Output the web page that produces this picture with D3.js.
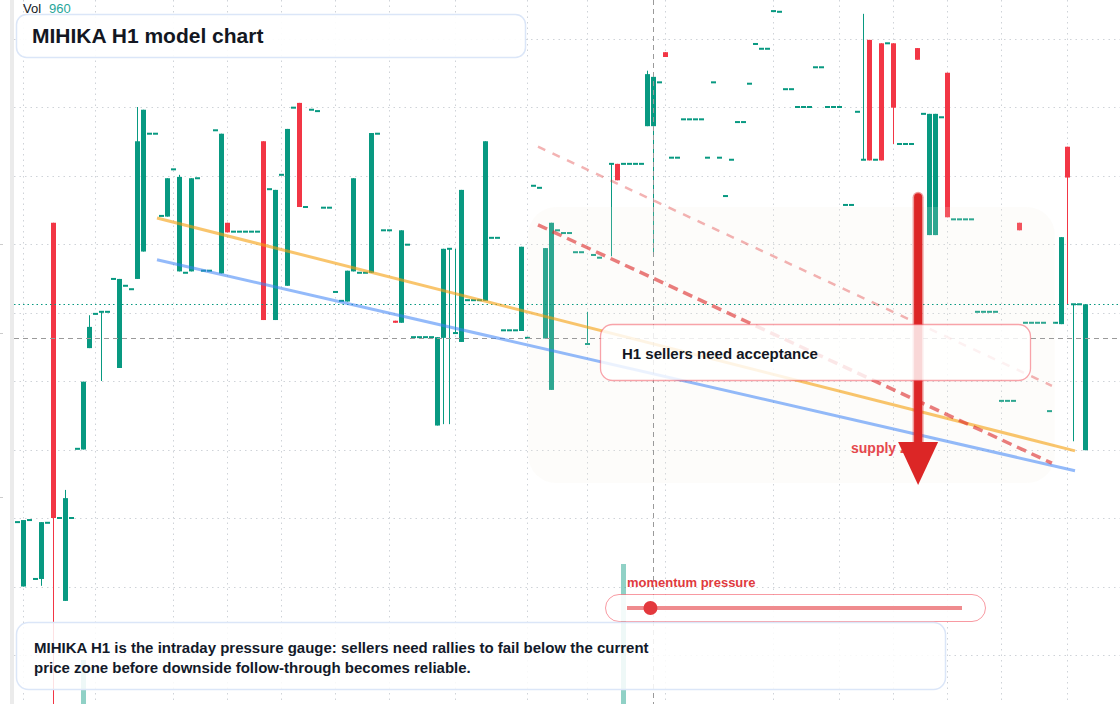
<!DOCTYPE html>
<head>
	<meta charset="utf-8">
	<script type="text/javascript" src="https://cdn.jsdelivr.net/npm/d3@7"></script>
	<style>
		body { margin: 0; background: #ffffff; }
		svg { display: block; font-family: "Liberation Sans", Arial, sans-serif; }
	</style>
</head>
<body>
	<script type="text/javascript">

	// H1 bars, one entry per slot (null = no bar)
	var opens = [
		119.4, 110.0, 119.7, 111.1, 111.1, 119.3, 163.1, 120.0, 107.9, 120.0,
		130.1, 130.0, 144.8, 149.8, 150.1, 150.1, 154.9, 141.9, 153.9, 153.4,
		154.9, 158.9, 176.1, 176.1, 164.1, 164.0, 170.9, 156.0, 155.8, 156.0,
		169.6, 156.1, 156.1, 176.6, 155.7, 163.1, 161.8, 161.8, 161.8, 161.8,
		161.8, 175.0, 168.0, 148.9, 170.1, 153.9, 179.9, 180.6, 165.4, 179.6,
		179.4, 165.3, 165.3, 153.0, 151.7, 151.6, 156.0, 155.8, 155.8, 155.8,
		176.1, 162.0, 162.0, 148.8, 148.5, 159.9, 146.4, 146.4, 146.4, 146.4,
		133.5, 146.3, 159.3, 147.0, 145.7, 151.8, 151.8, 151.8, 151.7, 160.9,
		160.9, 147.4, 147.4, 147.4, 147.3, 146.3, 168.5, 168.2, 146.2, 138.7,
		162.0, 161.6, 161.6, 158.8, 158.8, 145.4, 158.4, 158.0, null, 171.7,
		171.7, 171.7, 171.7, 171.7, 171.7, 177.2, 177.2, 183.6, 188.0, 172.6,
		172.6, 178.2, 178.2, 178.2, 178.2, 172.6, 183.6, 172.6, 167.0, 172.3,
		177.8, 177.8, 183.4, 189.2, 188.5, 188.5, 194.0, 193.9, 182.6, 182.6,
		180.0, 180.0, 180.0, 185.8, 185.8, 180.0, 180.0, 180.0, 165.7, 165.7,
		179.3, 172.3, 189.8, 172.3, 189.3, 189.3, 189.3, 174.6, 174.6, 174.6,
		188.6, 179.0, 161.3, 161.3, 178.5, 185.0, 163.6, 163.6, 163.6, 163.6,
		150.1, 150.1, 150.1, 150.1, 137.1, 137.1, 137.1, 163.1, 148.5, 148.5,
		148.5, 148.5, 135.6, 148.5, 148.3, 174.2, 151.2, 151.2, 129.9
	];
	var closes = [
		119.4, 119.7, 119.7, 111.1, 119.4, 119.3, 120.0, 120.0, 122.9, 120.0,
		130.1, 139.9, 147.9, 149.8, 150.1, 150.1, 154.9, 154.9, 153.9, 153.4,
		175.0, 179.6, 176.1, 176.1, 164.1, 169.6, 170.9, 169.8, 155.8, 169.6,
		169.6, 156.1, 156.1, 176.6, 176.1, 161.7, 161.8, 161.8, 161.8, 161.8,
		161.8, 148.9, 168.0, 167.9, 170.1, 176.8, 179.9, 165.4, 165.4, 179.6,
		179.4, 165.3, 165.3, 153.0, 151.7, 156.1, 169.6, 155.8, 155.8, 176.2,
		176.1, 162.0, 162.0, 148.5, 162.0, 159.9, 146.4, 146.4, 146.4, 146.4,
		146.4, 159.3, 159.3, 147.0, 167.9, 151.8, 151.8, 151.8, 175.0, 160.9,
		160.9, 147.4, 147.4, 147.4, 159.6, 146.3, 168.5, 168.2, 159.4, 163.1,
		162.0, 161.6, 161.6, 158.8, 158.8, 145.4, 158.4, 158.0, null, 171.7,
		169.3, 171.7, 171.7, 171.7, 171.7, 184.8, 184.4, 183.6, 187.3, 172.6,
		172.6, 178.2, 178.2, 178.2, 178.2, 172.6, 183.6, 172.6, 167.0, 172.3,
		177.8, 177.8, 183.4, 189.2, 188.5, 188.5, 194.0, 193.9, 182.6, 182.6,
		180.0, 180.0, 180.0, 185.8, 185.8, 180.0, 180.0, 180.0, 165.7, 165.7,
		179.3, 172.3, 172.2, 172.3, 172.2, 189.3, 179.9, 174.6, 174.6, 174.6,
		186.9, 179.0, 179.0, 179.0, 178.5, 163.9, 163.6, 163.6, 163.6, 163.6,
		150.1, 150.1, 150.1, 150.1, 137.1, 137.1, 137.1, 162.0, 148.5, 148.5,
		148.5, 148.5, 135.6, 148.5, 161.0, 169.7, 151.2, 151.2, 151.2
	];
	// wicks that reach beyond the body
	var wickSlot = [4, 6, 8, 12, 14, 20, 27, 71, 72, 73, 95, 99, 105, 106, 141, 146, 175, 176];
	var wickHigh = [null, null, 124.1, 149.6, null, 180.0, 170.1, null, null, 159.3, 150.1, null, 185.3, null, 193.6, null, null, null];
	var wickLow  = [110.1, 90.5, null, null, 140.0, null, null, 133.7, 133.7, null, null, 158.2, null, 158.4, null, 174.6, 151.2, 131.2];

	var volSlot = [11, 101];
	var volValue = [405, 960];

	var timeTickSlots = [1, 13, 26, 35, 44, 53, 62, 73, 85, 95, 108, 126, 137, 146, 155, 164, 175];
	var priceTicks = [100, 110, 120, 130, 140, 150, 160, 170, 180, 190];
	var leftAxisMarks = [160, 147, 123];

	var lastPrice = 151.2;
	var crossSlot = 106, crossPrice = 146.3;

	// trendlines: [slot0, price0, slot1, price1]
	var upperTrend = [23.25, 163.8, 176.25, 129.8];
	var lowerTrend = [23.25, 157.7, 176.25, 126.9];
	var dashTrend = [86.75, 162.8, 172.4, 128.0];
	var dashTrendFaint = [86.75, 174.2, 172.4, 139.3];
	var zone = [85.1, 165.4, 172.9, 125.1];
	var arrow = [150.1, 167.4, 124.8];
	var momentum = 0.07;

	var w = 1120, h = 704;
	var green = "#089981", red = "#f23645";

	var svg = d3.select("body").append("svg")
		.attr("width", w).attr("height", h);

	var x = d3.scaleLinear().domain([0, 183]).range([17.5, 17.5 + 6 * 183]);
	var y = d3.scaleLinear().domain([100, 190]).range([655, 38.5]);
	var yVol = d3.scaleLinear().domain([0, 960]).range([730, 564]);

	svg.append("rect").attr("width", w).attr("height", h).attr("fill", "#fff");

	// grid
	svg.append("g").selectAll("line").data(priceTicks).enter().append("line")
		.attr("x1", 14).attr("x2", w)
		.attr("y1", function(d){ return Math.round(y(d)) + 0.5; })
		.attr("y2", function(d){ return Math.round(y(d)) + 0.5; })
		.attr("stroke", "#cfd3d8").attr("stroke-dasharray", "1.5,4");
	svg.append("g").selectAll("line").data(timeTickSlots).enter().append("line")
		.attr("x1", function(d){ return x(d); }).attr("x2", function(d){ return x(d); })
		.attr("y1", 0).attr("y2", h)
		.attr("stroke", "#cfd3d8").attr("stroke-dasharray", "1.5,4");

	// left axis edge
	svg.append("rect").attr("x", 10).attr("y", 0).attr("width", 4).attr("height", h).attr("fill", "#ebebeb");
	svg.append("g").selectAll("line").data(leftAxisMarks).enter().append("line")
		.attr("x1", 0).attr("x2", 3)
		.attr("y1", function(d){ return Math.round(y(d)) + 0.5; })
		.attr("y2", function(d){ return Math.round(y(d)) + 0.5; })
		.attr("stroke", "#cccccc");

	// volume
	svg.append("g").selectAll("rect").data(volSlot).enter().append("rect")
		.attr("x", function(d){ return x(d) - 2.5; })
		.attr("width", 5)
		.attr("y", function(d, i){ return yVol(volValue[i]); })
		.attr("height", function(d, i){ return h - yVol(volValue[i]); })
		.attr("fill", green).attr("opacity", 0.45);

	// candles
	var bars = [];
	opens.forEach(function(o, i){
		if (o == null) return;
		var c = closes[i];
		var hi = Math.max(o, c), lo = Math.min(o, c);
		var k = wickSlot.indexOf(i);
		if (k >= 0) {
			if (wickHigh[k] != null) hi = Math.max(hi, wickHigh[k]);
			if (wickLow[k] != null) lo = Math.min(lo, wickLow[k]);
		}
		bars.push({slot: i, o: o, c: c, h: hi, l: lo});
	});

	var gBars = svg.append("g");
	gBars.selectAll("line").data(bars).enter().append("line")
		.attr("x1", function(d){ return x(d.slot); })
		.attr("x2", function(d){ return x(d.slot); })
		.attr("y1", function(d){ return y(d.h); })
		.attr("y2", function(d){ return y(d.l); })
		.attr("stroke", function(d){ return d.c >= d.o ? green : red; })
		.attr("stroke-width", 1);
	gBars.selectAll("rect").data(bars).enter().append("rect")
		.attr("x", function(d){ return x(d.slot) - 2.5; })
		.attr("width", 5)
		.attr("y", function(d){
			var top = y(Math.max(d.o, d.c)), bot = y(Math.min(d.o, d.c));
			return bot - top < 2 ? (top + bot) / 2 - 1 : top;
		})
		.attr("height", function(d){ return Math.max(2, y(Math.min(d.o, d.c)) - y(Math.max(d.o, d.c))); })
		.attr("fill", function(d){ return d.c >= d.o ? green : red; });

	// shaded zone
	svg.append("rect")
		.attr("x", x(zone[0])).attr("y", y(zone[1]))
		.attr("width", x(zone[2]) - x(zone[0]))
		.attr("height", y(zone[3]) - y(zone[1]))
		.attr("rx", 28)
		.attr("fill", "#f5ebe0").attr("opacity", 0.16);

	// last price and crosshair
	svg.append("line")
		.attr("x1", 14).attr("x2", w)
		.attr("y1", Math.round(y(lastPrice)) + 0.5).attr("y2", Math.round(y(lastPrice)) + 0.5)
		.attr("stroke", green).attr("stroke-width", 1.2).attr("stroke-dasharray", "1.5,3");
	svg.append("line")
		.attr("x1", 14).attr("x2", w)
		.attr("y1", Math.round(y(crossPrice)) + 0.5).attr("y2", Math.round(y(crossPrice)) + 0.5)
		.attr("stroke", "#9a9a9a").attr("stroke-dasharray", "5,4");
	svg.append("line")
		.attr("x1", x(crossSlot)).attr("x2", x(crossSlot))
		.attr("y1", 0).attr("y2", h)
		.attr("stroke", "#9a9a9a").attr("stroke-dasharray", "5,4");

	function trend(t, color, width, opacity, dash) {
		var l = svg.append("line")
			.attr("x1", x(t[0])).attr("y1", y(t[1]))
			.attr("x2", x(t[2])).attr("y2", y(t[3]))
			.attr("stroke", color).attr("stroke-width", width)
			.attr("stroke-opacity", opacity);
		if (dash) l.attr("stroke-dasharray", dash);
	}
	trend(dashTrendFaint, "#dc2626", 2.5, 0.35, "8,8");
	trend(upperTrend, "#f59e0b", 3, 0.6);
	trend(lowerTrend, "#3b82f6", 3, 0.55);
	trend(dashTrend, "#dc2626", 3.5, 0.6, "10,6");

	// supply zone label and arrow
	svg.append("text").attr("x", 851).attr("y", 453)
		.attr("font-size", 14).attr("font-weight", "bold").attr("fill", "#e5484d")
		.text("supply zone");
	var ax = x(arrow[0]);
	svg.append("line").attr("x1", ax).attr("x2", ax)
		.attr("y1", y(arrow[1]) + 4).attr("y2", y(arrow[2]) - 40)
		.attr("stroke", "#dc2626").attr("stroke-opacity", 0.45)
		.attr("stroke-width", 11).attr("stroke-linecap", "round");
	svg.append("line").attr("x1", ax).attr("x2", ax)
		.attr("y1", y(arrow[1]) + 4).attr("y2", y(arrow[2]) - 40)
		.attr("stroke", "#dc2626").attr("stroke-width", 8).attr("stroke-linecap", "round");
	svg.append("path")
		.attr("d", "M" + (ax - 20) + "," + (y(arrow[2]) - 43) + "L" + (ax + 20) + "," + (y(arrow[2]) - 43) +
			"L" + ax + "," + y(arrow[2]) + "Z")
		.attr("fill", "#dc2626");

	// annotation box
	svg.append("rect").attr("x", 600.5).attr("y", 324.5).attr("width", 430).attr("height", 56)
		.attr("rx", 12).attr("fill", "#fff").attr("fill-opacity", 0.82)
		.attr("stroke", "#f23645").attr("stroke-opacity", 0.45).attr("stroke-width", 1.3);
	svg.append("text").attr("x", 622).attr("y", 359)
		.attr("font-size", 15).attr("font-weight", "bold").attr("fill", "#131722")
		.text("H1 sellers need acceptance");

	// title
	svg.append("text").attr("x", 23).attr("y", 13)
		.attr("font-size", 13).attr("fill", "#131722").text("Vol");
	svg.append("text").attr("x", 49).attr("y", 13)
		.attr("font-size", 13).attr("fill", "#26a69a").text(volValue[1]);
	svg.append("rect").attr("x", 16.5).attr("y", 14.5).attr("width", 509).attr("height", 43)
		.attr("rx", 10).attr("fill", "#fff").attr("fill-opacity", 0.92)
		.attr("stroke", "#dbe6f8").attr("stroke-width", 1.5);
	svg.append("text").attr("x", 32).attr("y", 43)
		.attr("font-size", 21).attr("font-weight", "bold").attr("fill", "#131722")
		.text("MIHIKA H1 model chart");

	// momentum gauge
	svg.append("text").attr("x", 627).attr("y", 587)
		.attr("font-size", 13).attr("font-weight", "bold").attr("fill", "#e03a3e")
		.text("momentum pressure");
	svg.append("rect").attr("x", 605.5).attr("y", 594.5).attr("width", 380).attr("height", 27)
		.attr("rx", 13.5).attr("fill", "#fff").attr("fill-opacity", 0.9)
		.attr("stroke", "#f23645").attr("stroke-opacity", 0.5);
	var gx = d3.scaleLinear().domain([0, 1]).range([627, 962]);
	svg.append("line").attr("x1", gx(0)).attr("x2", gx(1)).attr("y1", 608).attr("y2", 608)
		.attr("stroke", "#e85a5e").attr("stroke-opacity", 0.7).attr("stroke-width", 4);
	svg.append("circle").attr("cx", gx(momentum)).attr("cy", 608).attr("r", 7)
		.attr("fill", "#e3383d");

	// note box
	svg.append("rect").attr("x", 16.5).attr("y", 622.5).attr("width", 929).attr("height", 67)
		.attr("rx", 12).attr("fill", "#fff").attr("fill-opacity", 0.85)
		.attr("stroke", "#dbe6f8").attr("stroke-width", 1.5);
	var note = svg.append("text").attr("font-size", 15).attr("font-weight", "bold").attr("fill", "#131a2a");
	note.append("tspan").attr("x", 34).attr("y", 653)
		.text("MIHIKA H1 is the intraday pressure gauge: sellers need rallies to fail below the current");
	note.append("tspan").attr("x", 34).attr("y", 673)
		.text("price zone before downside follow-through becomes reliable.");

	</script>
</body>
</html>
